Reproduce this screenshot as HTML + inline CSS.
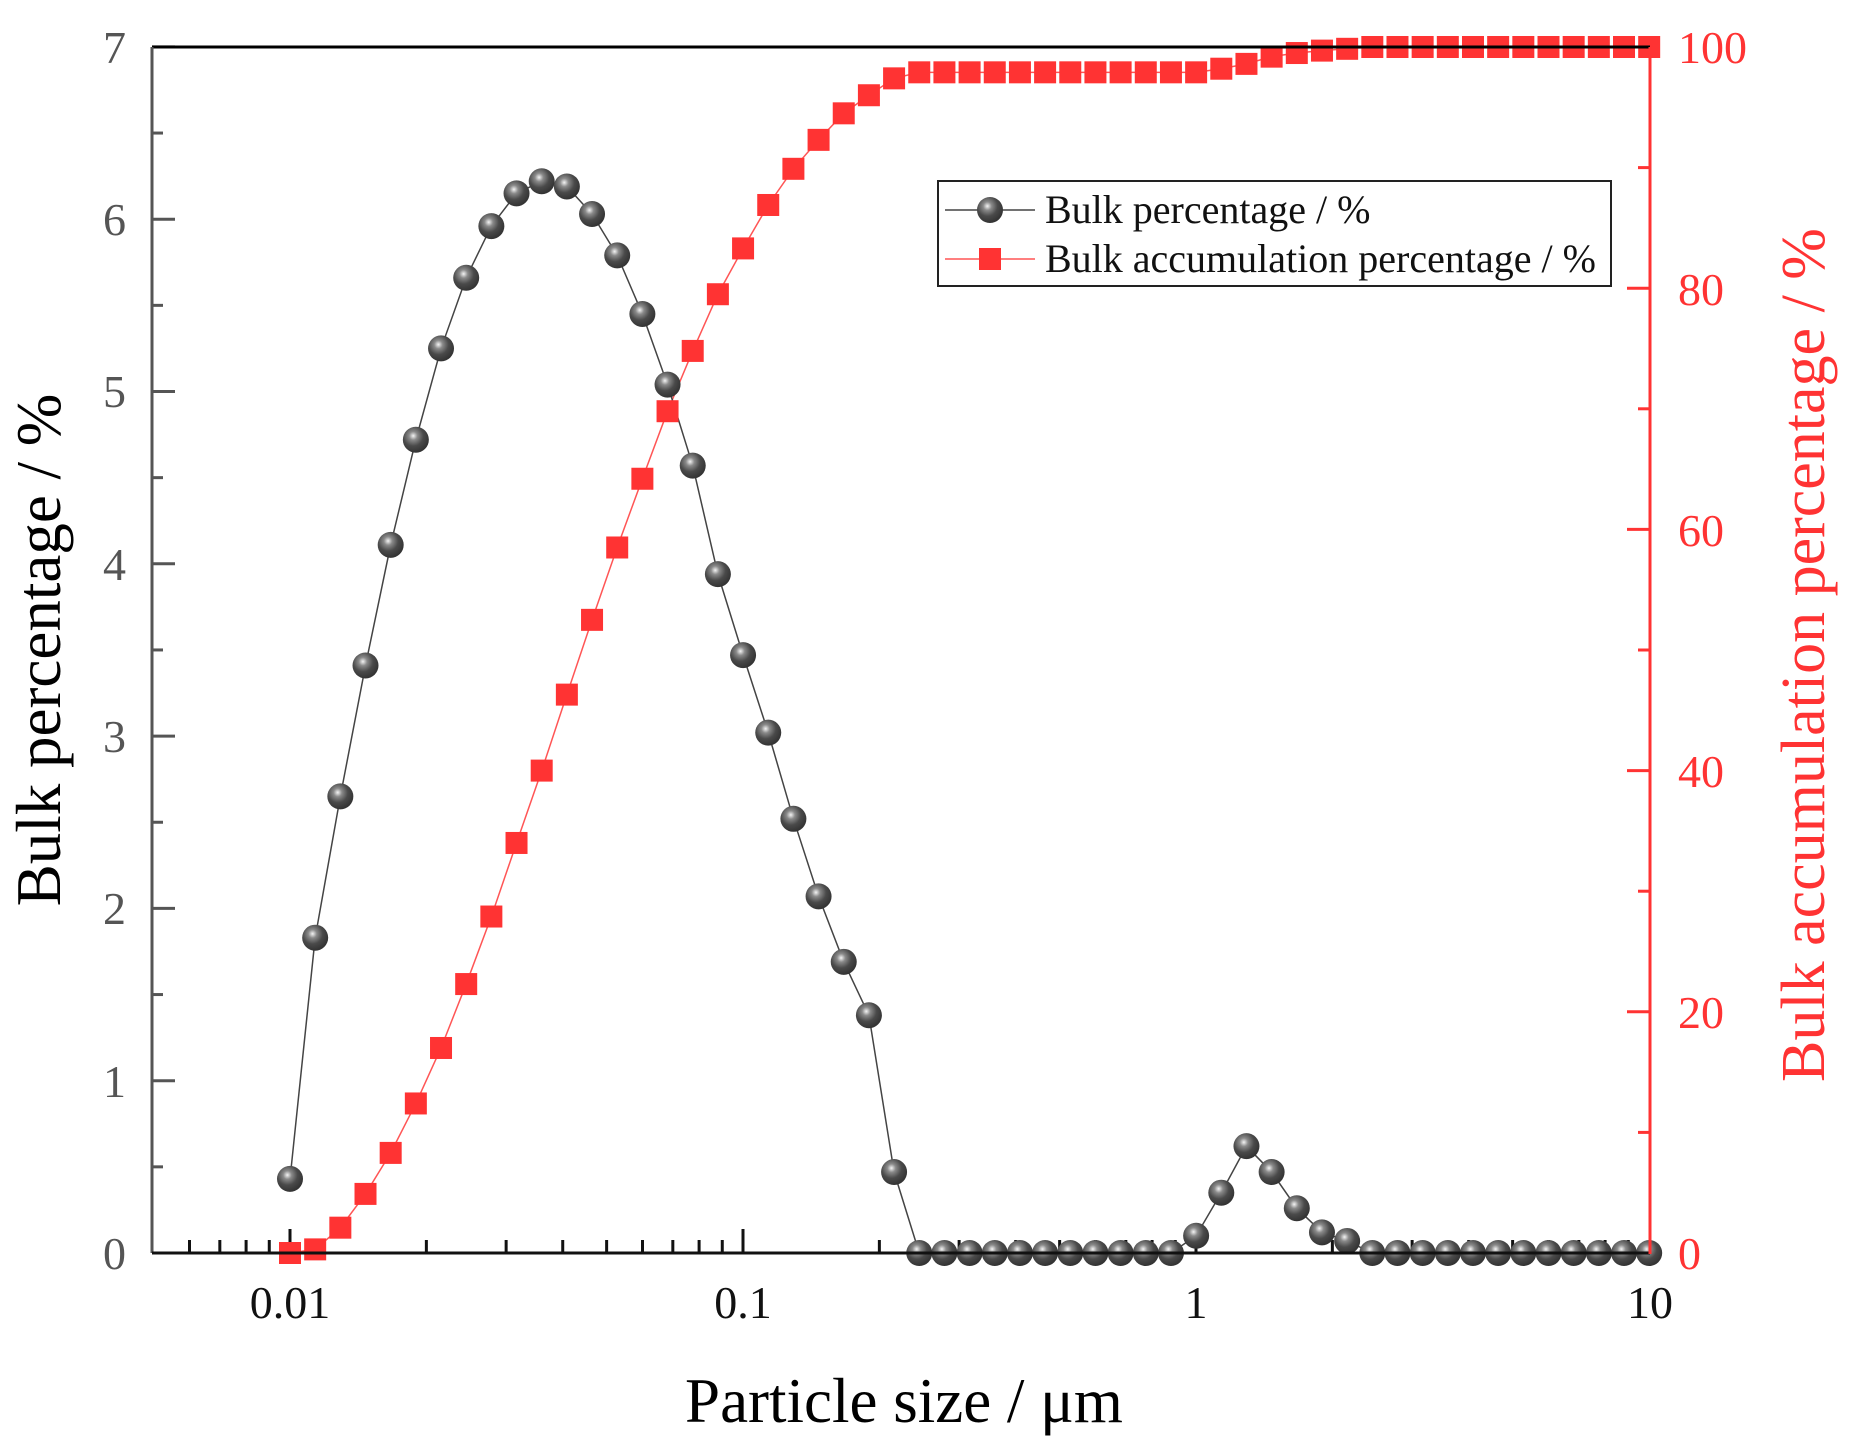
<!DOCTYPE html>
<html><head><meta charset="utf-8"><style>
html,body{margin:0;padding:0;background:#fff;}
svg{display:block;font-family:"Liberation Serif",serif;}
</style></head><body>
<svg id="s" width="1853" height="1448" viewBox="0 0 1853 1448" xmlns="http://www.w3.org/2000/svg">
<defs>
<radialGradient id="g" cx="0.4" cy="0.35" r="0.65">
<stop offset="0" stop-color="#f4f4f4"/><stop offset="0.25" stop-color="#8a8a8a"/><stop offset="0.6" stop-color="#4a4a4a"/><stop offset="1" stop-color="#333"/>
</radialGradient>
</defs>
<rect width="1853" height="1448" fill="#fff"/>
<g id="ticks"></g>
<polyline id="redline" fill="none" stroke="#f55" stroke-width="1.5"/>
<polyline id="blkline" fill="none" stroke="#444" stroke-width="1.5"/>
<g id="sq"></g>
<g id="sp"></g>
<line x1="152" y1="47" x2="1650" y2="47" stroke="#000" stroke-width="3"/>
<line x1="152" y1="47" x2="152" y2="1253" stroke="#555" stroke-width="3"/>
<line x1="152" y1="1253" x2="1650" y2="1253" stroke="#111" stroke-width="3"/>
<line x1="1650" y1="47" x2="1650" y2="1254" stroke="#f33" stroke-width="3"/>
<g font-size="46" fill="#555" text-anchor="end">
<text x="126" y="63">7</text><text x="126" y="235">6</text><text x="126" y="407">5</text><text x="126" y="580">4</text><text x="126" y="752">3</text><text x="126" y="924">2</text><text x="126" y="1097">1</text><text x="126" y="1269">0</text>
</g>
<g font-size="46" fill="#f33" text-anchor="start">
<text x="1678" y="63">100</text><text x="1678" y="305">80</text><text x="1678" y="546">60</text><text x="1678" y="787">40</text><text x="1678" y="1028">20</text><text x="1678" y="1269">0</text>
</g>
<g font-size="46" fill="#111" text-anchor="middle">
<text x="290" y="1318">0.01</text><text x="743" y="1318">0.1</text><text x="1196" y="1318">1</text><text x="1650" y="1318">10</text>
</g>
<text x="904" y="1422" font-size="63" text-anchor="middle" fill="#000">Particle size / μm</text>
<text transform="translate(60,650) rotate(-90)" font-size="63" text-anchor="middle" fill="#000">Bulk percentage / %</text>
<text transform="translate(1824,655) rotate(-90)" font-size="62" text-anchor="middle" fill="#f33">Bulk accumulation percentage / %</text>
<rect x="938" y="181" width="673" height="105" fill="#fff" stroke="#222" stroke-width="2"/>
<line x1="945" y1="210" x2="1035" y2="210" stroke="#444" stroke-width="1.5"/>
<circle cx="990" cy="210" r="13" fill="url(#g)"/>
<line x1="945" y1="259" x2="1035" y2="259" stroke="#f55" stroke-width="1.5"/>
<rect x="979" y="248" width="22" height="22" fill="#f33"/>
<text x="1045" y="223" font-size="40" fill="#111">Bulk percentage / %</text>
<text x="1045" y="272" font-size="40" fill="#111">Bulk accumulation percentage / %</text>
</svg>
<script>
var NS="http://www.w3.org/2000/svg";
function el(p,t,a){var e=document.createElementNS(NS,t);for(var k in a)e.setAttribute(k,a[k]);document.getElementById(p).appendChild(e);}
function X(i){return 290+25.17*i;}
function YL(v){return 1253-172.3*v;}
function YR(p){return 1253-12.06*p;}
var b=[0.43,1.83,2.65,3.41,4.11,4.72,5.25,5.66,5.96,6.15,6.22,6.19,6.03,5.79,5.45,5.04,4.57,3.94,3.47,3.02,2.52,2.07,1.69,1.38,0.47];
while(b.length<36)b.push(0);
b=b.concat([0.1,0.35,0.62,0.47,0.26,0.12,0.07]);
while(b.length<55)b.push(0);
var r=[0,0.3,2.1,4.9,8.3,12.4,17,22.3,27.9,34,40,46.3,52.5,58.5,64.2,69.8,74.8,79.5,83.3,86.9,89.9,92.3,94.5,96,97.4];
while(r.length<37)r.push(97.9);
r=r.concat([98.2,98.6,99.2,99.5,99.7,99.85]);
while(r.length<55)r.push(100);
var pb=[],pr=[];
for(var i=0;i<55;i++){pb.push(X(i)+","+YL(b[i]));pr.push(X(i)+","+YR(r[i]));}
document.getElementById("blkline").setAttribute("points",pb.join(" "));
document.getElementById("redline").setAttribute("points",pr.join(" "));
for(var i=0;i<55;i++){el("sq","rect",{x:X(i)-11,y:YR(r[i])-11,width:22,height:22,fill:"#f33"});}
for(var i=0;i<55;i++){el("sp","circle",{cx:X(i),cy:YL(b[i]),r:13,fill:"url(#g)"});}
for(var v=0;v<=7;v+=0.5){var y=YL(v);el("ticks","line",{x1:152,y1:y,x2:(v%1==0?175:163),y2:y,stroke:"#555","stroke-width":3});}
for(var p=0;p<=100;p+=10){var y=YR(p);el("ticks","line",{x1:1650,y1:y,x2:(p%20==0?1627:1638),y2:y,stroke:"#f33","stroke-width":3});}
for(var d=-3;d<=0;d++){for(var m=1;m<=9;m++){var lv=d+Math.log10(m);var x=290+453*(lv+2);if(x<170||x>1651)continue;el("ticks","line",{x1:x,y1:1253,x2:x,y2:(m==1?1229:1240),stroke:"#111","stroke-width":3});}}
</script>
</body></html>
